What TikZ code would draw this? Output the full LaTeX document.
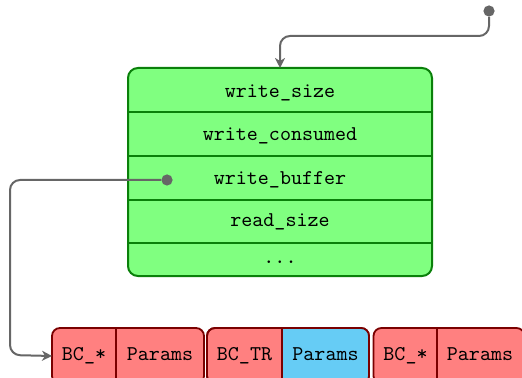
\documentclass[tikz,border=0pt]{standalone}
\usetikzlibrary{arrows.meta}
\definecolor{greenfill}{HTML}{80FF80}
\definecolor{greenline}{HTML}{0A800A}
\definecolor{redfill}{HTML}{FF8080}
\definecolor{redline}{HTML}{7A0000}
\definecolor{bluefill}{HTML}{66CCF5}
\definecolor{wire}{HTML}{666666}
\begin{document}
\begin{tikzpicture}[x=0.5pt,y=-0.5pt,
  font=\ttfamily\fontsize{10.5}{12}\selectfont,
  struct/.style={draw=greenline, fill=greenfill, line width=1pt, rounded corners=5pt,
                 minimum width=152pt, minimum height=104pt, inner sep=0pt, outer sep=0pt},
  sep/.style={draw=greenline, line width=0.8pt},
  cell/.style={draw=redline, fill=redfill, line width=0.9pt, rounded corners=4pt,
               minimum height=28pt, inner sep=0pt, outer sep=0pt},
  divider/.style={draw=redline, line width=0.9pt},
  field/.style={inner sep=0pt, text height=1.6ex, text depth=0.3ex},
  dotnode/.style={circle, fill=wire, inner sep=0pt, minimum size=5.6pt},
  conn/.style={draw=wire, line width=1pt, rounded corners=5pt,
               -{Stealth[length=5pt, width=5pt, inset=1.5pt]}}]
\useasboundingbox (0,0) rectangle (522,378);
\clip (0,0) rectangle (522,378);

% structure with its fields
\node[struct] (buf) at (280,172) {};
\foreach \y in {112,156,200,243}
  \draw[sep] (buf.west |- 0,\y) -- (buf.east |- 0,\y);
\node[field] (wsize) at (280,92)  {write\_size};
\node[field] (wcons) at (280,135) {write\_consumed};
\node[field] (wbuf)  at (280,179) {write\_buffer};
\node[field] (rsize) at (280,221) {read\_size};
\node[field] (more)  at (280,258) {...};

% pointer into the structure
\node[dotnode] (srcdot) at (489,11) {};
\coordinate (tbend) at (280,36);
\draw[conn] (srcdot) |- (tbend) -- (buf.north);

% command buffer cells
\node[cell, minimum width=76pt]   (bc1) at (128,356) {};
\node[cell, minimum width=81pt]   (bc2) at (288,356) {};
\node[cell, minimum width=75.5pt] (bc3) at (449,356) {};

\begin{scope}
  \clip[rounded corners=4pt] (bc2.north west) rectangle (bc2.south east);
  \fill[bluefill] (282,0 |- bc2.north) rectangle (bc2.south east);
\end{scope}
\draw[redline, line width=0.9pt, rounded corners=4pt] (bc2.north west) rectangle (bc2.south east);

\draw[divider] (116,0 |- bc1.north) -- (116,0 |- bc1.south);
\draw[divider] (282,0 |- bc2.north) -- (282,0 |- bc2.south);
\draw[divider] (437,0 |- bc3.north) -- (437,0 |- bc3.south);

\node[field] (op1) at (84,355)    {BC\_*};
\node[field] (pa1) at (160,355)   {Params};
\node[field] (op2) at (244.5,355) {BC\_TR};
\node[field] (pa2) at (325.5,355) {Params};
\node[field] (op3) at (405.5,355) {BC\_*};
\node[field] (pa3) at (480,355)   {Params};

% pointer from write_buffer to the first cell
\node[dotnode] (wbdot) at (167,180) {};
\coordinate (lbend) at (10,355);
\draw[conn] (wbdot) -| (lbend) -- (bc1.west);
\end{tikzpicture}
\end{document}
